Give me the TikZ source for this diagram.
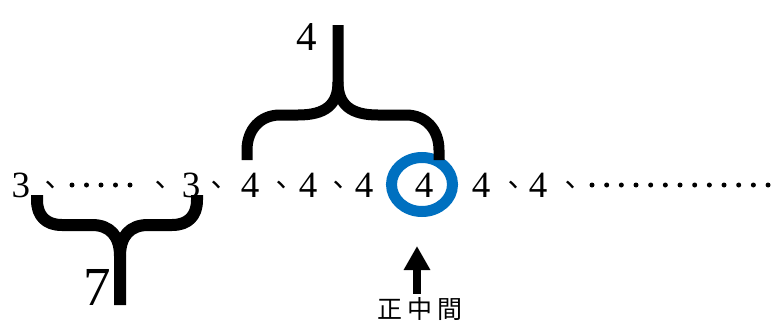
\documentclass[tikz,border=0pt]{standalone}
\usepackage{fontspec}
\setmainfont{Liberation Serif}
\newfontfamily\cjk{Noto Sans CJK TC}
\usetikzlibrary{arrows.meta,shapes.geometric}
\definecolor{ringblue}{RGB}{0,112,192}
\newcommand{\dunhao}{\makebox[12pt]{、}}
\tikzset{
  num/.style={font=\fontsize{37}{40}\selectfont, inner sep=0pt, anchor=base},
  dun/.style={font=\cjk\fontsize{28}{30}\selectfont, inner sep=0pt, anchor=center},
  brace/.style={line width=11pt, line join=round},
  seqdot/.style={fill=black, circle, inner sep=0pt, minimum size=5pt},
  ring/.style={draw=ringblue, line width=11pt, ellipse, minimum width=61pt, minimum height=54pt, inner sep=0pt},
  countlabel/.style={inner sep=0pt, anchor=base},
  midlabel/.style={font=\cjk\fontsize{25}{28}\selectfont, inner sep=0pt, anchor=base},
}
\begin{document}
\begin{tikzpicture}[x=1pt,y=-1pt]
\useasboundingbox (0,0) rectangle (772,322);
% sequence digits
\node[num] (n1) at (21,197) {3};
\node[num] (n2) at (191,197) {3};
\node[num] (n3) at (250,197) {4};
\node[num] (n4) at (308,197) {4};
\node[num] (n5) at (364,197) {4};
\node[num] (n6) at (424,197) {4};
\node[num] (n7) at (481,197) {4};
\node[num] (n8) at (538,197) {4};
% ideographic commas
\node[dun] (c1) at (50,188) {\dunhao};
\node[dun] (c2) at (160,188) {\dunhao};
\node[dun] (c3) at (216,188) {\dunhao};
\node[dun] (c4) at (281,188) {\dunhao};
\node[dun] (c5) at (338,188) {\dunhao};
\node[dun] (c6) at (513,188) {\dunhao};
\node[dun] (c7) at (570,188) {\dunhao};
% dots
\foreach \i in {0,...,4} \node[seqdot] (da\i) at ({72+14.5*\i},185) {};
\foreach \i in {0,...,12} \node[seqdot] (db\i) at ({592+14.67*\i},185) {};
% ring
\node[ring] (ring) at (422,184.5) {};
% top brace
\draw[brace] (247,160) -- (247,150) .. controls (247,130) and (260,115) .. (280,115) -- (298,115)
  .. controls (325,115) and (338,105) .. (338,82) -- (338,25);
\draw[brace] (439,160) -- (439,150) .. controls (439,130) and (426,115) .. (406,115) -- (378,115)
  .. controls (351,115) and (338,105) .. (338,82);
\node[countlabel, font=\fontsize{41}{45}\selectfont] (k4) at (307,50) {4};
% bottom brace
\draw[brace, line width=12pt] (37,195) -- (37,200) .. controls (37,216) and (46,225) .. (62,225) -- (92,225)
  .. controls (110,225) and (120,236) .. (120,256) -- (120,305);
\draw[brace, line width=12pt] (197,195) -- (197,200) .. controls (197,216) and (188,225) .. (172,225) -- (148,225)
  .. controls (130,225) and (120,236) .. (120,256);
\node[countlabel, font=\fontsize{55}{60}\selectfont] (k7) at (97,305) {7};
% arrow and label
\node[midlabel] (mid) at (420,318) {正\hspace{5pt}中\hspace{5pt}間};
\coordinate (tip) at (417,246);
\draw[-{Triangle[width=25pt,length=24pt]}, line width=8pt, shorten <=3pt] (mid.north -| tip) -- (tip);
\end{tikzpicture}
\end{document}
